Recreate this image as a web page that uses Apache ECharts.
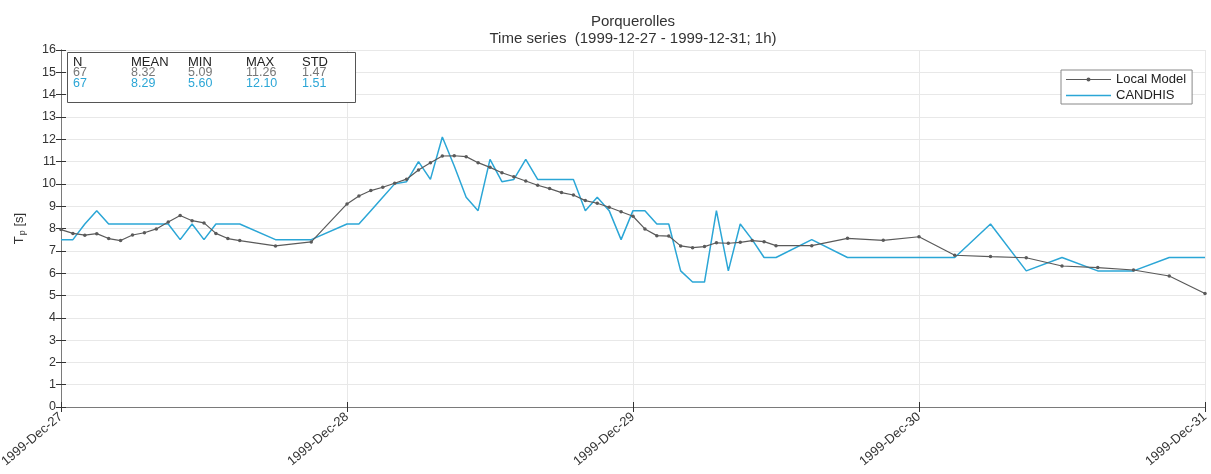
<!DOCTYPE html>
<html>
<head>
<meta charset="utf-8">
<script src="https://cdn.jsdelivr.net/npm/echarts@6/dist/echarts.min.js"></script>
<style>
html,body{margin:0;padding:0;background:#fff;}
#chart{width:1211px;height:474px;}
</style>
</head>
<body>
<div id="chart"></div>
<script>
// Hours since 1999-12-27 00:00
var hours = [0,1,2,3,4,5,6,7,8,9,10,11,12,13,14,15,18,21,
  24,25,26,27,28,29,30,31,32,33,34,35,36,37,38,39,40,41,42,43,44,45,46,47,48,49,50,51,52,53,54,55,56,57,58,59,60,
  63,66,69,72,75,78,81,84,87,90,93,96];
var localModel = [7.95,7.78,7.70,7.77,7.55,7.46,7.71,7.81,7.98,8.29,8.58,8.35,8.25,7.78,7.55,7.46,7.22,7.40,
  9.10,9.46,9.70,9.85,10.03,10.21,10.62,10.95,11.25,11.26,11.22,10.95,10.74,10.50,10.32,10.13,9.94,9.79,9.61,9.50,9.25,9.13,8.95,8.75,8.55,7.98,7.68,7.66,7.22,7.14,7.19,7.36,7.34,7.38,7.46,7.41,7.23,
  7.23,7.56,7.47,7.63,6.80,6.74,6.69,6.32,6.25,6.14,5.87,5.09];
var candhis = [7.5,7.5,8.2,8.8,8.2,8.2,8.2,8.2,8.2,8.2,7.5,8.2,7.5,8.2,8.2,8.2,7.5,7.5,
  8.2,8.2,8.8,9.4,10.0,10.1,11.0,10.2,12.1,10.8,9.4,8.8,11.1,10.1,10.2,11.1,10.2,10.2,10.2,10.2,8.8,9.4,8.8,7.5,8.8,8.8,8.2,8.2,6.1,5.6,5.6,8.8,6.1,8.2,7.5,6.7,6.7,
  7.5,6.7,6.7,6.7,6.7,8.2,6.1,6.7,6.1,6.1,6.7,6.7];
var xTickLabels = {0:'1999-Dec-27',24:'1999-Dec-28',48:'1999-Dec-29',72:'1999-Dec-30',96:'1999-Dec-31'};
var statsHeader = ['N','MEAN','MIN','MAX','STD'];
var statsLocal = ['67','8.32','5.09','11.26','1.47'];
var statsCandhis = ['67','8.29','5.60','12.10','1.51'];
var titleLines = ['Porquerolles','Time series  (1999-12-27 - 1999-12-31; 1h)'];
var seriesNames = ['Local Model','CANDHIS'];

var FONT = '"Liberation Sans", Arial, sans-serif';
var cLocal = '#5a5a5a', cCand = '#2ba6d6';

var statCols = [73,131,188,246,302];
var graphics = [
  {type:'text', x:633, y:22, style:{text:titleLines[0], font:'15px '+FONT, fill:'#333', textAlign:'center', textVerticalAlign:'middle'}},
  {type:'text', x:633, y:39, style:{text:titleLines[1], font:'15px '+FONT, fill:'#333', textAlign:'center', textVerticalAlign:'middle'}},
  {type:'rect', shape:{x:67.5,y:52.5,width:288,height:50}, style:{fill:'#fff', stroke:'#555', lineWidth:1}, z:10}
];
[[statsHeader,'#222',62,'13px '],[statsLocal,'#777',72.5,'12.5px '],[statsCandhis,cCand,83.5,'12.5px ']].forEach(function(r){
  r[0].forEach(function(t,i){
    graphics.push({type:'text', x:statCols[i], y:r[2], z:11, style:{text:t, font:r[3]+FONT, fill:r[1], textVerticalAlign:'middle'}});
  });
});

var chart = echarts.init(document.getElementById('chart'));
var axisLineStyle = {color:'#7a7a7a', width:1};
var tickStyle = {color:'#333', width:1};
chart.setOption({
  animation:false,
  backgroundColor:'#fff',
  textStyle:{fontFamily:FONT},
  grid:{left:61, right:6, top:50, bottom:67, containLabel:false, outerBoundsMode:'none'},
  legend:{
    orient:'vertical', left:1061, top:70,
    data:[
      {name:seriesNames[0], icon:'path://M0,4.4L45,4.4L45,5.6L0,5.6Z M20.5,5A2,2 0 1,1 24.5,5A2,2 0 1,1 20.5,5Z'},
      {name:seriesNames[1], icon:'path://M0,0L45,0L45,1.6L0,1.6Z'}
    ],
    itemWidth:45, itemHeight:8, itemGap:3,
    padding:[3,6,2,5],
    borderColor:'#888', borderWidth:1, backgroundColor:'#fff',
    textStyle:{fontSize:13, color:'#222', lineHeight:12, fontFamily:FONT}
  },
  xAxis:[{
    type:'value', min:0, max:96, interval:24,
    axisLine:{lineStyle:axisLineStyle},
    axisTick:{inside:true, length:5, lineStyle:tickStyle},
    splitLine:{show:true, lineStyle:{color:'#e8e8e8'}},
    axisLabel:{rotate:40, margin:8, fontSize:13, color:'#333', fontFamily:FONT,
      formatter:function(v){return xTickLabels[v]||'';}}
  },{
    type:'value', min:0, max:96, interval:24, position:'top',
    axisLine:{lineStyle:axisLineStyle},
    axisTick:{inside:true, length:5, lineStyle:tickStyle},
    splitLine:{show:false}, axisLabel:{show:false}
  }],
  yAxis:[{
    type:'value', min:0, max:16, interval:1,
    axisLine:{show:true, lineStyle:axisLineStyle},
    axisTick:{show:true, inside:true, length:5, lineStyle:tickStyle},
    splitLine:{show:true, lineStyle:{color:'#e8e8e8'}},
    axisLabel:{fontSize:12.5, color:'#333', margin:5, fontFamily:FONT},
    name:'{a|T}{b|p}{a| [s]}', nameLocation:'middle', nameRotate:90, nameGap:34,
    nameTextStyle:{rich:{a:{fontSize:13, color:'#333', fontFamily:FONT}, b:{fontSize:9, color:'#333', fontFamily:FONT, padding:[7,0,0,1]}}}
  },{
    type:'value', min:0, max:16, interval:1, position:'right',
    axisLine:{show:true, lineStyle:axisLineStyle},
    axisTick:{show:true, inside:true, length:5, lineStyle:tickStyle},
    splitLine:{show:false}, axisLabel:{show:false}
  }],
  series:[{
    name:seriesNames[0], type:'line', xAxisIndex:0, yAxisIndex:0,
    data:hours.map(function(h,i){return [h, localModel[i]];}),
    symbol:'circle', symbolSize:3.5, showSymbol:true,
    lineStyle:{color:cLocal, width:1.2}, itemStyle:{color:cLocal}, z:3
  },{
    name:seriesNames[1], type:'line', xAxisIndex:0, yAxisIndex:0,
    data:hours.map(function(h,i){return [h, candhis[i]];}),
    symbol:'none', showSymbol:false,
    lineStyle:{color:cCand, width:1.5}, itemStyle:{color:cCand}, z:2
  }],
  graphic:graphics
});
</script>
</body>
</html>
